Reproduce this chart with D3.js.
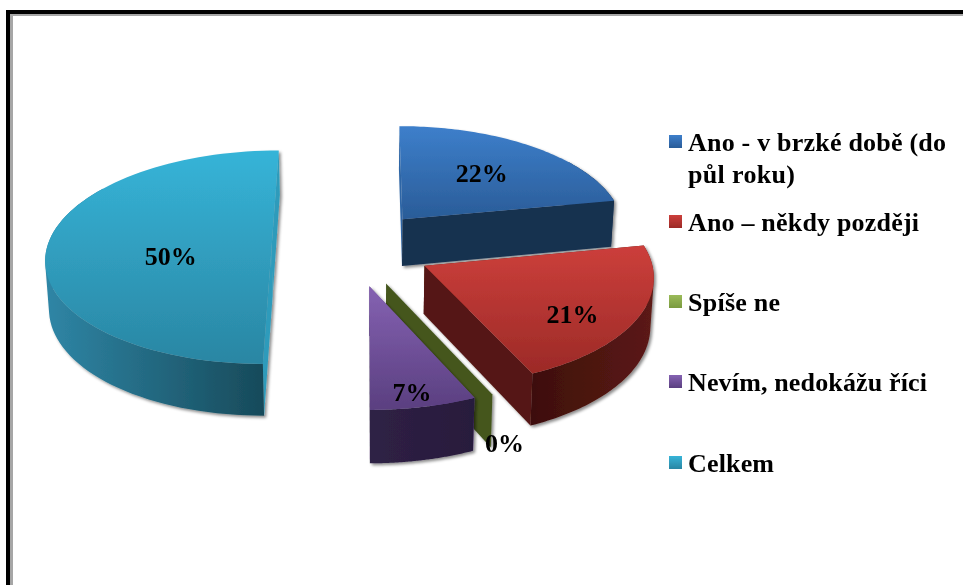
<!DOCTYPE html>
<html><head><meta charset="utf-8">
<script src="https://cdn.jsdelivr.net/npm/d3@7"></script>
<style>html,body{margin:0;padding:0;background:#fff;overflow:hidden}svg{display:block}</style>
</head><body><div id="c"></div>
<script>
const categories = ["Ano - v brzké době (do půl roku)", "Ano – někdy později", "Spíše ne", "Nevím, nedokážu říci", "Celkem"];
const values = [22, 21.2, 0, 6.8, 50];
const valueLabels = ["22%", "21%", "0%", "7%", "50%"];
const legendLines = [["Ano - v brzké době (do", "půl roku)"], ["Ano – někdy později"], ["Spíše ne"], ["Nevím, nedokážu říci"], ["Celkem"]];
const legendWidths = [[258, 107], [231], [92], [239], [86]];
const topLight = ["#3d7fcb", "#cc3f3b", "#9bbb59", "#8562b2", "#36b4d8"];
const topDark  = ["#2a5c98", "#9c2a27", "#7a9a40", "#5a3f80", "#2a86a3"];
const rimLight = ["#17304f", "#5c1a15", "#44571f", "#2f2145", "#2f86a6"];
const rimDark  = ["#17304f", "#3d0f0c", "#44571f", "#281b3c", "#174a5a"];
const endWall   = ["#17304f", "#551813", "#44571f", "#2a1d40", "#2d9bbb"];
const startWall = ["#2e66a6", "#551813", "#44571f", "#6a4b94", "#2d9bbb"];
const labelRadius = [0.615, 0.75, 1.34, 0.88, 0.45];
const labelAngle = [38.6, 125, 160.7, 169, 260];
const rowY = [150, 230, 310, 390, 471];

const W = 963, H = 585;
const svg = d3.select("#c").append("svg").attr("width", W).attr("height", H);
const defs = svg.append("defs");
const soft = defs.append("filter").attr("id", "soft").attr("x", "-5%").attr("y", "-5%").attr("width", "110%").attr("height", "110%");
soft.append("feGaussianBlur").attr("stdDeviation", 0.45);
const sh = defs.append("filter").attr("id", "shadow").attr("x", "-10%").attr("y", "-10%").attr("width", "120%").attr("height", "120%");
sh.append("feDropShadow").attr("dx", 2).attr("dy", 2).attr("stdDeviation", 1.6).attr("flood-color", "#000").attr("flood-opacity", 0.45);

// projection of the pie plane
const VX = 363, VY = -977, HH = 1232, D = 2598, R = 226, EXPL = 81, CU = -11, CV = -15, DEPTH = 48;
const proj = (u, v) => { const w = 1 - v / D; return [VX + u / w, VY + HH / w, w]; };
const drop = (u, v) => { const [x, y, w] = proj(u, v); return [VX + (x - VX) * 0.988, y + DEPTH / Math.pow(w, 0.9)]; };
const lineGen = d3.line();

// frame
const frame = svg.append("g");
frame.append("rect").attr("x", 6).attr("y", 10).attr("width", W).attr("height", H).attr("fill", "#000");
frame.append("rect").attr("x", 10).attr("y", 14).attr("width", W).attr("height", H).attr("fill", "#a6a6a6");
frame.append("rect").attr("x", 13).attr("y", 16).attr("width", W).attr("height", H).attr("fill", "#fff");

const pie = d3.pie().sort(null).value(d => d).startAngle(0).endAngle(2 * Math.PI);
const arcs = pie(values);

function grad(id, c1, c2, horizontal) {
  const g = defs.append("linearGradient").attr("id", id)
    .attr("x1", 0).attr("y1", 0).attr("x2", horizontal ? 1 : 0).attr("y2", horizontal ? 0 : 1);
  g.append("stop").attr("offset", 0).attr("stop-color", c1);
  g.append("stop").attr("offset", 1).attr("stop-color", c2);
}
categories.forEach((c, i) => {
  grad("top" + i, topLight[i], topDark[i], false);
  grad("rim" + i, rimLight[i], rimDark[i], true);
});
defs.select("#rim1").attr("x1", 1).attr("y1", 0).attr("x2", 0).attr("y2", 0);

const order = [0, 4, 1, 2, 3];
const pies = svg.append("g").attr("filter", "url(#soft)");
order.forEach(i => {
  const a = arcs[i], mid = (a.startAngle + a.endAngle) / 2;
  const ou = CU + EXPL * Math.sin(mid), ov = CV - EXPL * Math.cos(mid);
  const pt = t => [ou + R * Math.sin(t), ov - R * Math.cos(t)];
  const n = 80;
  const angs = d3.range(n + 1).map(k => a.startAngle + (a.endAngle - a.startAngle) * k / n);
  const rimTop = angs.map(t => proj(...pt(t)).slice(0, 2));
  const g = pies.append("g").attr("filter", "url(#shadow)");
  const wall = t => {
    const p = pt(t);
    return [proj(ou, ov).slice(0, 2), proj(...p).slice(0, 2), drop(...p), drop(ou, ov)];
  };
  g.append("path").attr("d", lineGen(wall(a.startAngle)) + "Z").attr("fill", startWall[i]);
  if (values[i] > 0) {
    const vis = angs.filter(t => Math.cos(t) < 0.6);
    const quads = d3.pairs(vis).map(([t0, t1]) => {
      const q = [proj(...pt(t0)).slice(0, 2), proj(...pt(t1)).slice(0, 2), drop(...pt(t1)), drop(...pt(t0))];
      if (d3.polygonArea(q) < 0) q.reverse();
      return lineGen(q) + "Z";
    });
    g.append("path").attr("d", quads.join("")).attr("fill", `url(#rim${i})`);
    g.append("path").attr("d", lineGen(wall(a.endAngle)) + "Z").attr("fill", endWall[i]);
    g.append("path").attr("d", lineGen([proj(ou, ov).slice(0, 2)].concat(rimTop)) + "Z").attr("fill", `url(#top${i})`);
  }
});

// value labels
const labels = svg.append("g").attr("filter", "url(#soft)");
arcs.forEach((a, i) => {
  const mid = (a.startAngle + a.endAngle) / 2;
  const ou = CU + EXPL * Math.sin(mid), ov = CV - EXPL * Math.cos(mid);
  const r = R * labelRadius[i], la = labelAngle[i] * Math.PI / 180;
  const p = proj(ou + r * Math.sin(la), ov - r * Math.cos(la));
  labels.append("text").attr("x", p[0]).attr("y", p[1] + 9).attr("text-anchor", "middle")
    .attr("font-family", "'Liberation Serif'").attr("font-weight", "bold").attr("font-size", 26).attr("fill", "#000")
    .text(valueLabels[i]);
});

// legend
const legend = svg.append("g").attr("filter", "url(#soft)");
categories.forEach((c, i) => {
  const y = rowY[i];
  legend.append("rect").attr("x", 669).attr("y", y - 15).attr("width", 13).attr("height", 13).attr("fill", `url(#top${i})`);
  legendLines[i].forEach((t, j) => {
    legend.append("text").attr("x", 688).attr("y", y + 1 + j * 31.5).attr("font-family", "'Liberation Serif'")
      .attr("font-weight", "bold").attr("font-size", 26).attr("fill", "#000")
      .attr("textLength", legendWidths[i][j]).attr("lengthAdjust", "spacing").text(t);
  });
});
</script></body></html>
